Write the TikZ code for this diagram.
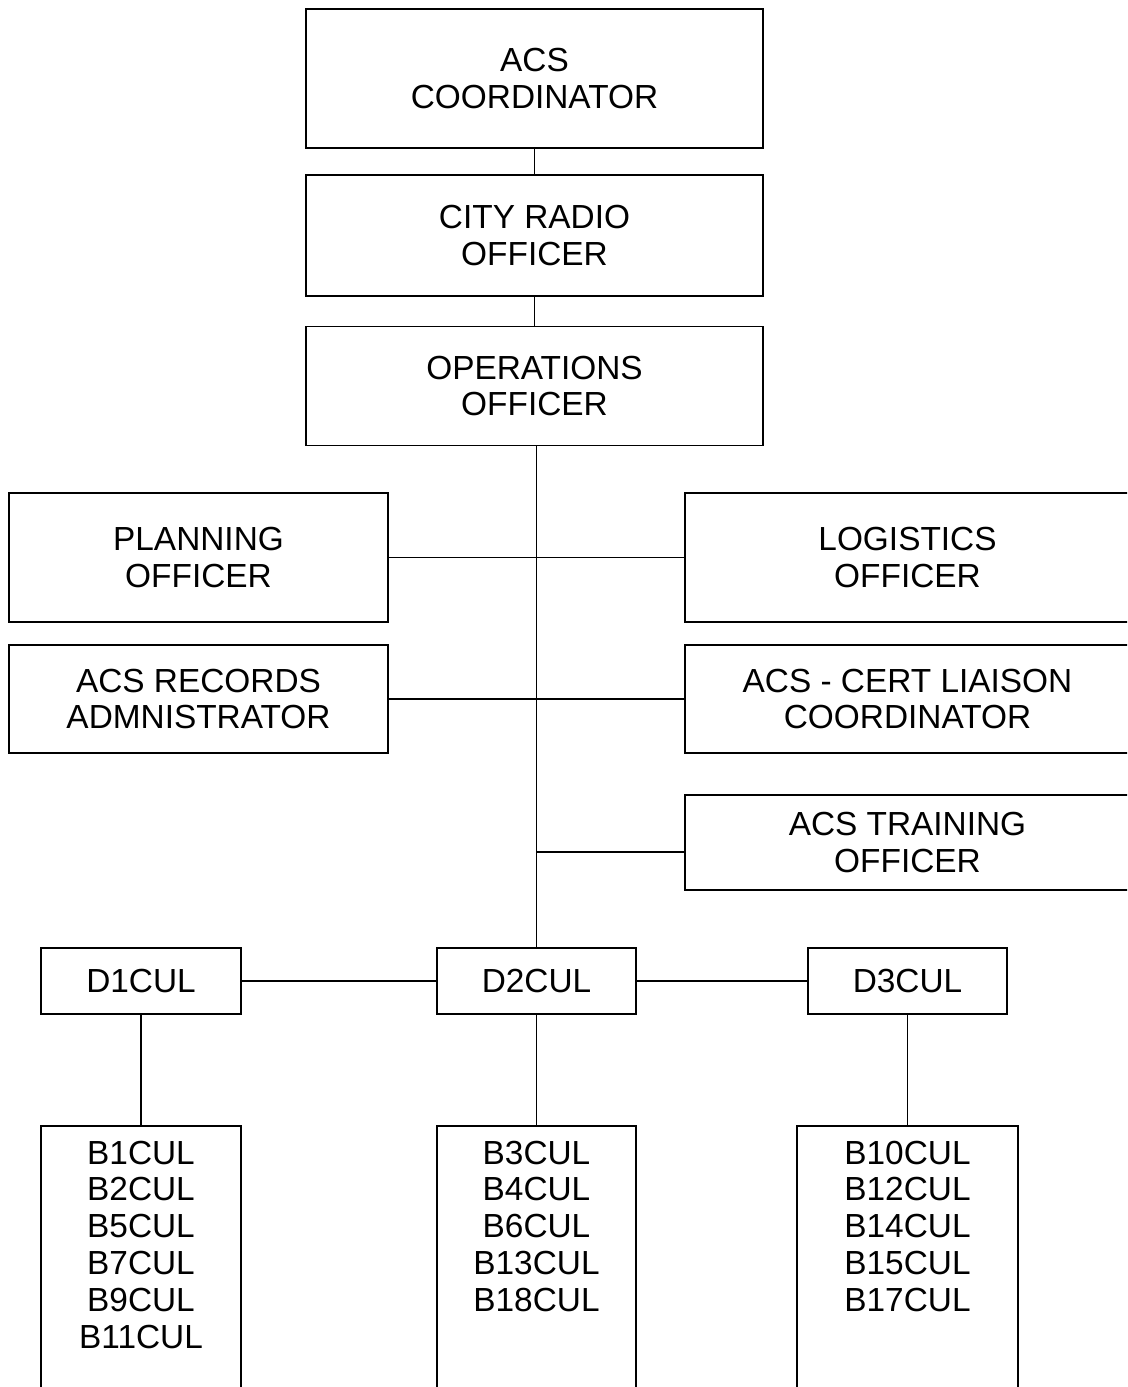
\documentclass[tikz,border=0pt]{standalone}
\usepackage{fontspec}
\setmainfont{Liberation Sans}
\usetikzlibrary{positioning}
\tikzset{
  role/.style={draw,line width=1pt,align=center,inner sep=2pt,
               font=\fontsize{19}{21}\selectfont},
  unit/.style={role,minimum width=3.98cm,minimum height=1.32cm},
  roster/.style={draw,line width=1pt,inner xsep=0pt,inner ysep=0.3cm,
                 font=\fontsize{19}{21}\selectfont},
  ln/.style={line width=0.9pt},
}
\begin{document}
\begin{tikzpicture}[node distance=5mm]
  \clip (0,0) rectangle (22.54,-27.74);
  % command chain
  \node[role,minimum width=9.14cm,minimum height=2.78cm] (acs) at (10.69,-1.57) {ACS\\COORDINATOR};
  \node[role,minimum width=9.14cm,minimum height=2.42cm,below=of acs] (radio) {CITY RADIO\\OFFICER};
  \node[role,minimum width=9.14cm,minimum height=2.38cm,below=5.8mm of radio] (ops) {OPERATIONS\\OFFICER};
  % staff
  \node[role,minimum width=7.58cm,minimum height=2.58cm] (plan) at (3.97,-11.15) {PLANNING\\OFFICER};
  \node[role,minimum width=8.9cm,minimum height=2.58cm] (logi) at (18.15,-11.15) {LOGISTICS\\OFFICER};
  \node[role,minimum width=7.58cm,minimum height=2.16cm] (recs) at (3.97,-13.98) {ACS RECORDS\\ADMNISTRATOR};
  \node[role,minimum width=8.9cm,minimum height=2.16cm] (cert) at (18.15,-13.98) {ACS - CERT LIAISON\\COORDINATOR};
  \node[role,minimum width=8.9cm,minimum height=1.9cm] (train) at (18.15,-16.85) {ACS TRAINING\\OFFICER};
  % districts
  \node[unit,minimum width=4cm] (d1) at (2.82,-19.62) {D1CUL};
  \node[unit] (d2) at (10.73,-19.62) {D2CUL};
  \node[unit] (d3) at (18.15,-19.62) {D3CUL};
  \node[roster,below=2.2cm of d1] (b1) {\parbox[t][6cm][t]{4cm}{\centering
    B1CUL\\B2CUL\\B5CUL\\B7CUL\\B9CUL\\B11CUL}};
  \node[roster,below=2.2cm of d2] (b2) {\parbox[t][6cm][t]{3.98cm}{\centering
    B3CUL\\B4CUL\\B6CUL\\B13CUL\\B18CUL}};
  \node[roster,below=2.2cm of d3] (b3) {\parbox[t][6cm][t]{4.42cm}{\centering
    B10CUL\\B12CUL\\B14CUL\\B15CUL\\B17CUL}};
  % connectors
  \foreach \a/\b in {acs/radio,radio/ops,plan/logi,recs/cert,d1/d2,d2/d3,d1/b1,d2/b2,d3/b3}
    {\draw[ln] (\a) -- (\b);}
  \draw[ln] (d2.north) -- (d2.north |- ops.south);
  \coordinate (tj) at ([yshift=-0.19cm]train.west);
  \draw[ln] (tj) -- (tj -| d2.north);
\end{tikzpicture}
\end{document}
